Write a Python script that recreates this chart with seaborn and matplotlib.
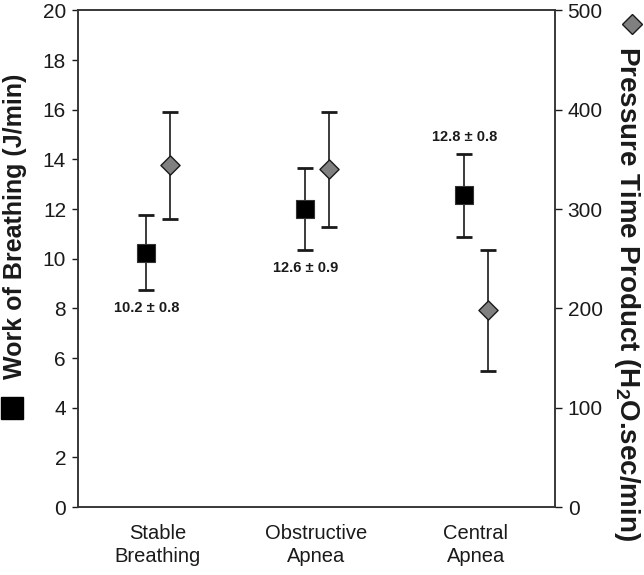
import numpy as np
import pandas as pd
import matplotlib; matplotlib.use('Agg')
import matplotlib.pyplot as plt
from matplotlib.lines import Line2D
import seaborn as sns

sns.set_theme(style='white')
plt.rcParams['font.family'] = ['Liberation Sans', 'DejaVu Sans']
plt.rcParams['mathtext.fontset'] = 'custom'
plt.rcParams['mathtext.rm'] = 'Liberation Sans:bold'
plt.rcParams['mathtext.it'] = 'Liberation Sans:bold'
plt.rcParams['mathtext.bf'] = 'Liberation Sans:bold'

# ── data ─────────────────────────────────────────────────────────────
conditions = ['Stable\nBreathing', 'Obstructive\nApnea', 'Central\nApnea']
wob_mean   = [10.25, 12.0, 12.55]     # J/min (left axis)
wob_err    = [1.5, 1.65, 1.67]
ptp_mean   = [344, 340, 198]          # H2O.sec/min (right axis)
ptp_err    = [54, 58, 61]
wob_text   = ['10.2 ± 0.8', '12.6 ± 0.9', '12.8 ± 0.8']
text_above = [False, False, True]

df = pd.DataFrame({'pos': np.arange(len(conditions)),
                   'wob': wob_mean, 'wob_err': wob_err,
                   'ptp': ptp_mean, 'ptp_err': ptp_err})
df['x_wob'] = df['pos'] - 0.07
df['x_ptp'] = df['pos'] + 0.08

INK = '#1a1a1a'
fig = plt.figure(figsize=(6.44, 5.75), dpi=100)
ax = fig.add_axes([0.121, 0.118, 0.741, 0.864])
ax2 = ax.twinx()

# work of breathing: black squares
ax.errorbar(df['x_wob'], df['wob'], yerr=df['wob_err'], fmt='none',
            ecolor=INK, elinewidth=1.2, capsize=5.8, capthick=2, zorder=2)
sns.scatterplot(data=df, x='x_wob', y='wob', marker='s', s=150, color='black',
                edgecolor='#333333', linewidth=0.8, ax=ax, zorder=3, legend=False)

# pressure time product: grey diamonds
ax2.errorbar(df['x_ptp'], df['ptp'], yerr=df['ptp_err'], fmt='none',
             ecolor=INK, elinewidth=1.2, capsize=5.8, capthick=2, zorder=2)
sns.scatterplot(data=df, x='x_ptp', y='ptp', marker='D', s=95, color='#808080',
                edgecolor=INK, linewidth=1.0, ax=ax2, zorder=3, legend=False)

for row, txt, up in zip(df.itertuples(), wob_text, text_above):
    y = row.wob + row.wob_err if up else row.wob - row.wob_err
    ax.annotate(txt, xy=(row.x_wob, y), xytext=(0, 12 if up else -13),
                textcoords='offset points', ha='center', va='center',
                fontsize=10.5, fontweight='bold', color=INK)

ax.set_xlim(-0.5, 2.5)
ax.set_ylim(0, 20)
ax2.set_ylim(0, 500)
ax.set_xticks(df['pos'])
ax.set_xticklabels(conditions, fontsize=14.5, linespacing=1.3)
ax.set_yticks(range(0, 21, 2))
ax2.set_yticks(range(0, 501, 100))
ax.tick_params(axis='x', length=0, pad=12, colors=INK)
ax.tick_params(axis='y', direction='out', length=4.5, width=1, pad=4,
               labelsize=15, colors=INK, left=True)
ax2.tick_params(axis='y', direction='out', length=5, width=1, pad=4,
                labelsize=15, colors=INK, right=True)
ax.set_xlabel('')
ax.set_ylabel('')
ax2.set_ylabel('')
for a in (ax, ax2):
    for sp in a.spines.values():
        sp.set_color('#333333')
        sp.set_linewidth(1.1)
    a.grid(False)

# axis titles with their marker keys
fig.text(0.024, 0.606, 'Work of Breathing (J/min)', rotation=90, ha='center',
         va='center', fontsize=18, fontweight='bold', color=INK)
fig.add_artist(Line2D([0.018], [0.29], transform=fig.transFigure, marker='s',
                      markersize=16.5, color='black', linestyle='none'))
fig.text(0.973, 0.49, 'Pressure Time Product (H$_2$O.sec/min)', rotation=270,
         ha='center', va='center', fontsize=20, fontweight='bold', color=INK)
fig.add_artist(Line2D([0.981], [0.958], transform=fig.transFigure, marker='D',
                      markersize=10.5, markerfacecolor='#808080',
                      markeredgecolor=INK, markeredgewidth=1, linestyle='none'))

plt.savefig('out.png', dpi=100)
plt.close()
